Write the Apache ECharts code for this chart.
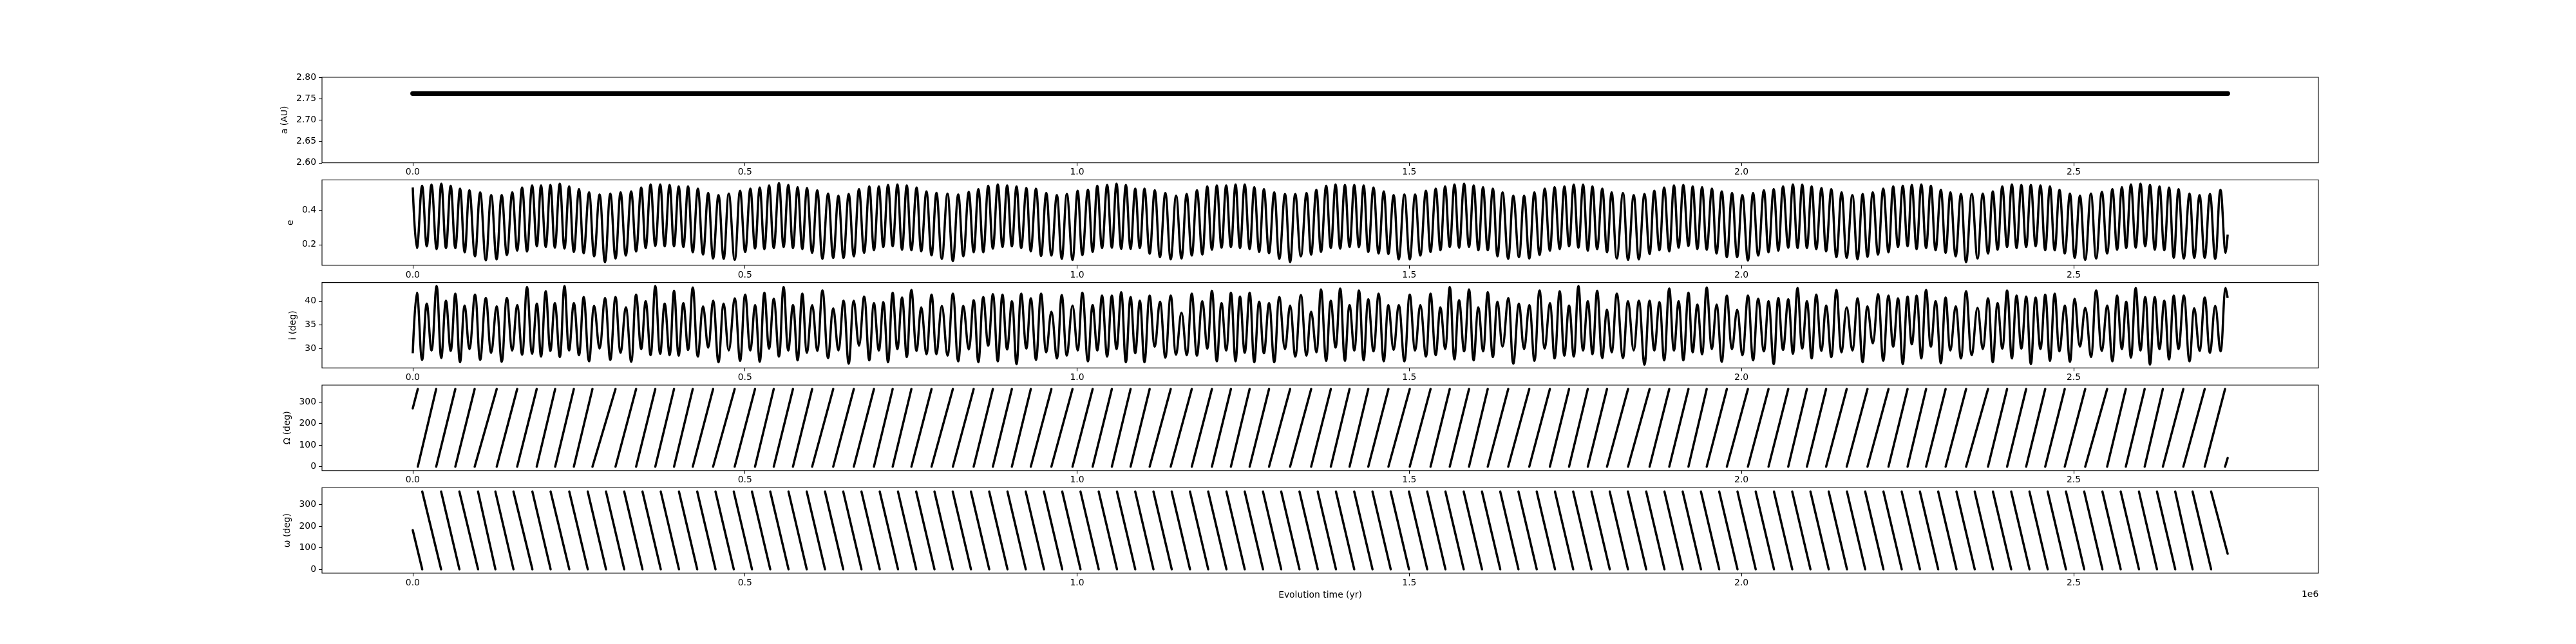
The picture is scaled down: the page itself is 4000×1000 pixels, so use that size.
<!DOCTYPE html>
<html><head><meta charset="utf-8">
<script src="https://cdn.jsdelivr.net/npm/echarts@6/dist/echarts.min.js"></script>
<style>html,body{margin:0;padding:0;background:#fff}#c{width:4000px;height:1000px}</style>
</head><body><div id="c"></div>
<script>
// ---------- data ----------
// time of each e / i extremum, in kyr
const extTimesKyr = [
0,6.3,14.1,21.1,28.2,35.9,43.0,50.0,57.1,64.1,71.2,78.2,85.3,93.7,101.5,110.0,118.1,126.2,133.9,141.7,149.8,157.2,164.6,172.0,179.7,186.8,193.1,200.2,207.2,213.9,221.3,228.4,235.4,242.5,250.2,257.3,265.4,273.1,281.2,289.3,297.4,305.2,312.9,320.7,328.8,336.2,343.9,350.6,358.0,365.1,372.5,379.2,386.6,393.3,400.3,407.4,414.4,421.5,429.2,437.0,444.7,452.1,460.2,468.0,475.7,484.6,492.7,500.4,508.2,515.2,522.3,529.3,536.4,
543.4,551.2,558.2,565.3,572.3,579.3,586.4,593.4,601.2,608.9,616.7,625.2,632.9,640.7,648.4,656.2,663.9,671.7,679.4,687.2,694.2,701.6,708.3,715.4,722.4,729.5,736.5,743.6,750.6,758.4,765.4,773.2,780.9,788.3,796.4,804.9,813.0,821.1,828.8,836.9,844.3,851.4,858.8,866.2,873.2,880.6,887.7,894.7,901.8,908.8,915.9,923.6,930.3,938.1,945.8,953.6,961.3,969.5,976.9,984.6,993.1,1000.8,1007.9,1016.3,1023.4,1030.4,1037.5,1045.2,1052.3,1059.3,1066.4,1073.4,1080.5,1087.5,
1094.4,1101.4,1109.2,1116.9,1124.7,1132.8,1140.9,1149.0,1157.1,1164.9,1172.6,1180.4,1188.5,1195.9,1202.9,1210.3,1217.4,1224.4,1231.5,1238.5,1245.2,1252.3,1259.7,1266.7,1274.1,1281.2,1288.9,1296.7,1304.4,1312.9,1320.6,1328.4,1336.8,1345.3,1352.3,1360.1,1367.1,1374.9,1381.9,1389.0,1396.0,1403.1,1410.1,1417.2,1424.2,1431.3,1438.3,1446.1,1453.8,1461.6,1468.6,1476.4,1484.1,1492.6,1500.7,1508.8,1516.6,1525.0,1532.0,1539.8,1546.9,1553.9,1560.9,1568.0,1575.0,1582.5,1589.9,1596.9,1604.0,1611.0,1618.1,1625.8,1632.8,
1640.4,1648.9,1656.6,1665.1,1672.8,1680.6,1688.3,1696.1,1703.9,1711.6,1718.7,1726.4,1733.5,1740.5,1747.5,1754.6,1761.6,1768.7,1775.7,1782.8,1790.5,1797.6,1804.6,1812.4,1821.6,1829.3,1837.8,1845.5,1854.0,1861.7,1868.8,1876.5,1883.6,1891.3,1898.4,1905.4,1912.5,1920.2,1926.6,1933.6,1940.7,1947.7,1955.5,1962.5,1970.3,1978.0,1985.8,1993.5,2001.3,2009.7,2017.5,2025.2,2033.7,2040.7,2048.5,2055.5,2062.6,2070.4,2077.4,2084.4,2091.5,2098.5,2105.6,2112.6,2120.4,2127.4,2135.2,2142.9,2150.7,2158.4,2166.9,2174.7,2182.4,
2189.7,2197.6,2205.5,2213.4,2221.3,2228.4,2235.6,2242.8,2250.0,2256.4,2263.6,2270.7,2277.9,2285.1,2292.2,2300.1,2307.3,2314.5,2322.4,2330.3,2338.1,2346.7,2355.3,2363.2,2371.1,2378.3,2385.5,2392.6,2399.8,2407.0,2414.1,2421.3,2428.5,2435.6,2442.8,2450.0,2457.2,2464.3,2471.5,2478.7,2486.6,2494.4,2501.6,2509.5,2517.4,2526.0,2533.9,2542.5,2550.4,2558.3,2565.4,2572.6,2579.1,2586.2,2593.4,2600.6,2607.7,2614.9,2622.1,2629.2,2636.4,2643.6,2650.7,2657.9,2665.8,2674.4,2681.6,2689.5,2697.3,2705.2,2713.1,2721.0,2728.9,2731.8];

const eVals = [
0.533,0.180,0.543,0.190,0.550,0.174,0.555,0.180,0.543,0.180,0.526,0.155,0.517,0.132,0.505,0.109,0.489,0.114,0.489,0.139,0.505,0.165,0.533,0.160,0.545,0.190,0.545,0.186,0.548,0.182,0.555,0.177,0.539,0.157,0.523,0.150,0.505,0.132,0.492,0.098,0.497,0.119,0.505,0.136,0.510,0.160,0.533,0.180,0.551,0.192,0.551,0.190,0.548,0.190,0.539,0.186,0.539,0.155,0.526,0.142,0.501,0.119,0.489,0.117,0.497,0.111,0.514,0.157,0.526,0.177,0.533,0.174,0.545,
0.180,0.558,0.186,0.548,0.180,0.535,0.174,0.530,0.152,0.517,0.117,0.497,0.122,0.485,0.122,0.495,0.132,0.523,0.152,0.539,0.167,0.539,0.186,0.548,0.190,0.551,0.170,0.545,0.167,0.533,0.161,0.510,0.137,0.502,0.117,0.497,0.104,0.492,0.132,0.507,0.155,0.523,0.155,0.543,0.177,0.551,0.186,0.545,0.190,0.539,0.180,0.530,0.161,0.526,0.134,0.501,0.136,0.489,0.117,0.495,0.111,0.514,0.139,0.520,0.157,0.543,0.180,0.548,0.182,0.555,0.175,0.548,0.175,0.526,
0.180,0.526,0.147,0.517,0.127,0.501,0.114,0.485,0.119,0.495,0.136,0.517,0.142,0.539,0.170,0.545,0.182,0.545,0.186,0.551,0.180,0.551,0.174,0.535,0.157,0.523,0.150,0.505,0.117,0.495,0.098,0.495,0.132,0.501,0.142,0.520,0.157,0.543,0.180,0.551,0.177,0.548,0.186,0.548,0.185,0.545,0.157,0.533,0.148,0.510,0.145,0.489,0.114,0.492,0.114,0.492,0.136,0.514,0.157,0.526,0.167,0.539,0.186,0.551,0.182,0.555,0.186,0.545,0.167,0.535,0.167,0.526,0.132,
0.505,0.117,0.485,0.127,0.485,0.119,0.505,0.139,0.526,0.165,0.535,0.174,0.539,0.190,0.550,0.182,0.550,0.165,0.539,0.174,0.526,0.155,0.505,0.119,0.501,0.111,0.489,0.114,0.495,0.145,0.514,0.167,0.533,0.161,0.545,0.182,0.548,0.192,0.539,0.174,0.535,0.170,0.526,0.148,0.510,0.127,0.501,0.127,0.489,0.107,0.501,0.136,0.517,0.155,0.523,0.165,0.539,0.182,0.551,0.180,0.550,0.180,0.539,0.174,0.530,0.161,0.523,0.127,0.505,0.123,0.489,0.114,0.495,
0.129,0.505,0.142,0.526,0.155,0.539,0.186,0.543,0.190,0.548,0.174,0.551,0.180,0.543,0.167,0.520,0.152,0.505,0.132,0.495,0.098,0.495,0.119,0.497,0.148,0.510,0.170,0.539,0.186,0.551,0.180,0.548,0.186,0.548,0.190,0.545,0.167,0.539,0.167,0.520,0.148,0.497,0.123,0.485,0.111,0.497,0.119,0.507,0.148,0.523,0.170,0.535,0.180,0.551,0.182,0.555,0.190,0.548,0.170,0.539,0.167,0.533,0.123,0.523,0.119,0.497,0.123,0.489,0.123,0.495,0.117,0.520,0.152,0.258];

const iVals = [
29.0,41.8,27.6,39.5,29.6,43.2,28.0,40.1,29.5,41.6,27.1,39.1,29.9,41.4,27.6,40.7,29.1,38.9,27.2,40.7,29.6,39.2,28.7,43.0,28.9,39.5,28.3,42.1,29.5,39.6,28.2,43.2,29.6,39.6,28.6,40.9,27.3,39.0,30.0,40.7,27.6,40.9,29.1,38.7,27.2,41.4,29.9,40.0,28.6,43.2,28.9,39.5,28.6,42.2,28.5,39.6,29.7,42.9,28.3,38.9,30.2,40.1,27.1,39.5,29.6,40.6,27.4,41.4,29.6,39.2,27.2,41.8,30.0,
40.5,28.3,43.0,29.6,39.2,27.5,41.6,29.1,39.2,29.5,42.3,28.0,38.5,29.6,40.1,26.8,40.1,30.6,41.0,27.5,39.6,29.6,39.8,27.1,41.8,29.9,40.8,28.2,42.4,29.5,38.7,28.8,41.4,28.8,39.0,28.5,41.6,27.3,39.0,29.8,40.2,27.1,40.9,30.6,41.5,27.3,41.4,29.8,40.0,26.7,41.6,30.0,40.6,27.6,41.6,29.2,37.8,27.9,41.3,28.5,39.1,29.6,41.8,27.3,39.2,29.6,41.2,28.3,41.2,29.9,41.9,27.1,40.9,29.0,
40.1,27.1,41.2,30.4,39.9,28.1,41.2,28.7,37.6,28.6,41.6,28.5,40.0,30.0,42.2,27.3,39.6,29.6,41.8,27.3,41.0,29.1,41.8,27.1,39.9,29.0,39.6,27.1,40.9,29.9,39.1,28.3,41.3,28.5,37.8,29.2,42.5,27.4,40.1,30.2,42.7,27.4,39.2,29.6,42.3,27.5,40.4,29.4,41.6,27.3,39.2,29.7,39.2,27.3,41.4,29.6,39.2,28.3,41.6,28.6,38.7,29.9,43.0,27.7,40.2,29.4,42.5,27.5,38.7,29.4,41.9,28.2,39.9,
30.4,40.7,26.8,39.5,29.9,39.2,27.4,42.3,30.0,39.6,27.9,42.1,28.5,39.1,28.3,43.2,29.6,40.0,28.8,42.2,28.0,38.2,29.2,41.6,28.0,40.0,29.6,40.1,26.6,40.1,29.6,39.8,27.5,42.7,29.6,40.0,27.5,41.8,29.2,39.3,28.8,42.9,29.9,39.3,27.2,41.2,29.9,38.2,28.6,41.2,27.5,40.5,29.4,40.0,26.7,40.7,29.7,40.4,28.9,42.8,30.0,40.0,27.9,41.4,29.5,39.1,28.2,42.4,29.2,38.7,29.6,40.6,27.1,
38.9,31.1,41.5,27.4,41.2,30.4,40.6,26.7,41.0,30.9,41.2,27.9,42.4,30.4,40.0,26.9,40.8,29.6,38.9,27.9,42.1,28.6,38.6,29.9,40.6,27.1,39.6,30.0,42.3,27.9,41.2,30.0,41.0,26.7,40.8,29.9,41.4,27.4,41.6,29.4,39.1,27.2,40.5,30.4,38.6,28.2,42.3,29.5,39.1,27.3,41.2,29.9,39.9,28.1,42.8,29.6,40.9,26.6,40.9,29.9,40.1,27.7,41.2,29.9,41.2,27.3,38.5,29.5,40.8,29.1,39.0,29.4,42.8,40.7];

// semi-major axis: nearly constant band
const aTimesKyr = [0, 250, 500, 750, 1000, 1250, 1500, 1750, 2000, 2250, 2500, 2731.8];
const aVals     = [2.762,2.762,2.762,2.762,2.762,2.762,2.762,2.762,2.762,2.762,2.762,2.762];

// longitude of node: times (kyr) where it wraps 360 -> 0
const nodeWrapKyr = [7.6,35.3,64.1,93.2,126.4,157.2,186.6,214.4,242.5,270.5,305.2,336.2,365.1,393.3,421.5,452.1,484.6,515.2,
543.4,572.3,601.2,632.9,663.9,694.2,722.4,750.6,780.9,813.0,844.3,873.2,901.8,930.3,961.3,993.1,1023.4,1052.3,1080.5,
1109.2,1140.9,1172.6,1202.9,1231.5,1259.7,1288.9,1320.6,1352.3,1381.9,1410.1,1438.3,1468.6,1500.7,1532.0,1560.9,1589.9,1618.1,
1648.9,1680.6,1711.6,1740.5,1768.7,1797.6,1829.3,1861.7,1891.3,1920.2,1947.7,1978.0,2009.7,2040.7,2070.4,2098.5,2127.4,2158.4,
2189.7,2221.3,2250.0,2277.9,2307.3,2338.1,2371.1,2399.8,2428.5,2457.2,2486.6,2517.4,2550.4,2578.5,2606.9,2634.3,2665.1,2697.3,2727.9];
const nodeStart = 270, nodeEnd = 40;
// argument of perihelion: times (kyr) where it wraps 0 -> 360
const periWrapKyr = [14.3,42.7,70.2,98.3,124.4,151.6,180.1,207.5,235.6,263.4,290.9,318.3,345.8,373.3,400.7,428.2,455.7,483.2,510.6,
538.1,565.6,593.0,620.5,648.0,675.4,702.9,730.4,757.8,785.3,812.8,840.2,867.7,895.2,922.7,950.1,977.6,1005.1,1032.5,1060.0,
1087.5,1114.9,1142.4,1169.9,1197.3,1224.8,1252.3,1279.8,1307.2,1334.7,1362.2,1389.6,1417.1,1444.6,1472.0,1499.5,1527.0,1554.4,
1581.9,1609.4,1636.9,1664.3,1691.8,1719.3,1746.7,1774.2,1801.7,1829.1,1856.6,1884.1,1911.5,1939.0,1966.5,1994.0,2021.4,2048.9,
2076.4,2103.8,2131.3,2158.8,2186.2,2213.7,2241.2,2268.6,2296.1,2323.6,2351.1,2378.5,2406.0,2433.5,2460.9,2488.4,2515.9,2543.3,
2570.8,2598.3,2625.4,2652.9,2679.0,2706.9];
const periStart = 181, periEnd = 72;
const endKyr = 2731.8;

const xTicks = [0, 500000, 1000000, 1500000, 2000000, 2500000];
const aTicks = [2.60, 2.65, 2.70, 2.75, 2.80];
const eTicks = [0.2, 0.4];
const iTicks = [30, 35, 40];
const angTicks = [0, 100, 200, 300];
const yNames = ['a (AU)', 'e', 'i (deg)', 'Ω (deg)', 'ω (deg)'];
const xName = 'Evolution time (yr)';
const offsetText = '1e6';

// ---------- chart ----------
const FONT = 'DejaVu Sans', FS = 13.9;
const tops = [120, 279.31, 438.62, 597.93, 757.24];
const H = 132.76;
const X_MIN = -136590, X_MAX = 2868390;
const yCfg = [
  {min: 2.60, max: 2.80, ticks: aTicks, fmt: v => v.toFixed(2), gap: 46},
  {min: 0.0789, max: 0.5776, ticks: eTicks, fmt: v => v.toFixed(1), gap: 37},
  {min: 25.89, max: 43.97, ticks: iTicks, fmt: v => String(v), gap: 33},
  {min: -18, max: 378, ticks: angTicks, fmt: v => String(v), gap: 41},
  {min: -18, max: 378, ticks: angTicks, fmt: v => String(v), gap: 41}
];

function sawtooth(wraps, startVal, endVal, before, after) {
  const d = [[0, startVal]];
  for (let k = 0; k < wraps.length; k++) {
    const w = wraps[k] * 1000;
    d.push([w, before]); d.push([w, '-']); d.push([w, after]);
  }
  d.push([endKyr * 1000, endVal]);
  return d;
}

const grids = [], xAxes = [], yAxes = [];
for (let k = 0; k < 5; k++) {
  grids.push({left: 500, top: tops[k], width: 3100, height: H, show: true,
    borderColor: '#000', borderWidth: 1.1, backgroundColor: 'rgba(0,0,0,0)',
    containLabel: false, outerBoundsMode: 'none'});
  xAxes.push({gridIndex: k, type: 'value', min: X_MIN, max: X_MAX,
    axisLine: {show: false, onZero: false},
    axisTick: {show: true, length: 5, customValues: xTicks, lineStyle: {color: '#000', width: 1.1}},
    axisLabel: {show: true, customValues: xTicks, margin: 8, fontFamily: FONT, fontSize: FS, color: '#000',
      formatter: v => (v / 1e6).toFixed(1)},
    splitLine: {show: false},
    name: k === 4 ? xName : '', nameLocation: 'middle', nameGap: 27,
    nameTextStyle: {fontFamily: FONT, fontSize: FS, color: '#000'}});
  const c = yCfg[k];
  yAxes.push({gridIndex: k, type: 'value', min: c.min, max: c.max,
    axisLine: {show: false, onZero: false},
    axisTick: {show: true, length: 5, customValues: c.ticks, lineStyle: {color: '#000', width: 1.1}},
    axisLabel: {show: true, customValues: c.ticks, margin: 9, fontFamily: FONT, fontSize: FS, color: '#000', formatter: c.fmt},
    splitLine: {show: false},
    name: yNames[k], nameLocation: 'middle', nameGap: c.gap, nameRotate: 90,
    nameTextStyle: {fontFamily: FONT, fontSize: FS, color: '#000'}});
}

const lineBase = {type: 'line', symbol: 'none', showSymbol: false, animation: false, clip: true, silent: true};
const series = [
  Object.assign({}, lineBase, {xAxisIndex: 0, yAxisIndex: 0,
    data: aTimesKyr.map((t, k) => [t * 1000, aVals[k]]),
    lineStyle: {color: '#000', width: 7.5, cap: 'round', join: 'round'}}),
  Object.assign({}, lineBase, {xAxisIndex: 1, yAxisIndex: 1, smooth: 0.4,
    data: extTimesKyr.map((t, k) => [t * 1000, eVals[k]]),
    lineStyle: {color: '#000', width: 3.5, join: 'round'}}),
  Object.assign({}, lineBase, {xAxisIndex: 2, yAxisIndex: 2, smooth: 0.4,
    data: extTimesKyr.map((t, k) => [t * 1000, iVals[k]]),
    lineStyle: {color: '#000', width: 3.5, join: 'round'}}),
  Object.assign({}, lineBase, {xAxisIndex: 3, yAxisIndex: 3,
    data: sawtooth(nodeWrapKyr, nodeStart, nodeEnd, 360, 0),
    lineStyle: {color: '#000', width: 3.5, cap: 'round', join: 'round'}}),
  Object.assign({}, lineBase, {xAxisIndex: 4, yAxisIndex: 4,
    data: sawtooth(periWrapKyr, periStart, periEnd, 0, 360),
    lineStyle: {color: '#000', width: 3.5, cap: 'round', join: 'round'}})
];

const chart = echarts.init(document.getElementById('c'), null, {renderer: 'canvas', width: 4000, height: 1000});
chart.setOption({
  backgroundColor: '#fff',
  animation: false,
  grid: grids, xAxis: xAxes, yAxis: yAxes, series: series,
  graphic: [{type: 'text', left: 3574, top: 916, silent: true,
    style: {text: offsetText, fontFamily: FONT, fontSize: FS, fill: '#000'}}]
});
</script></body></html>
